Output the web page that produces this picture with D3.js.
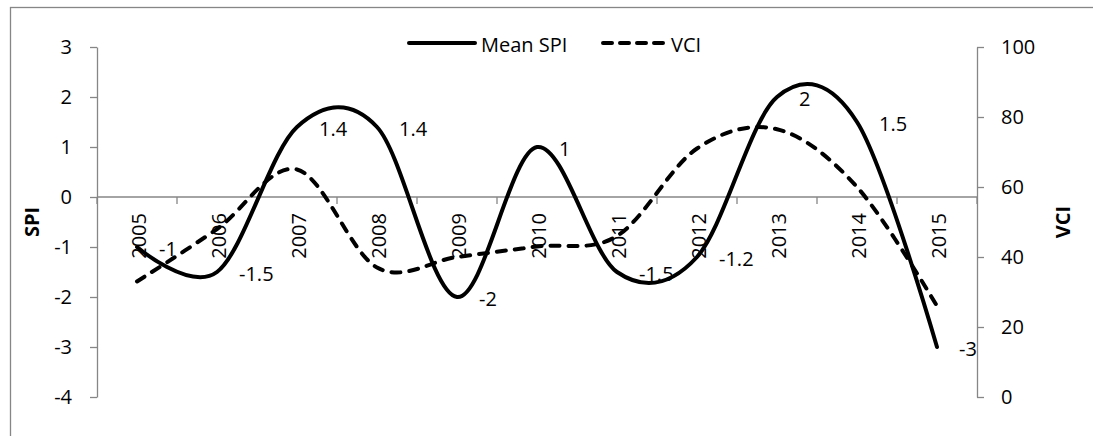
<!DOCTYPE html>
<html>
<head>
<meta charset="utf-8">
<script src="https://cdn.jsdelivr.net/npm/d3@7"></script>
<style>
  html, body { margin: 0; padding: 0; background: #fff; }
  svg { display: block; }
  text { font-family: "Open Sans", "Noto Sans", sans-serif; fill: #000; }
</style>
</head>
<body>
<svg id="chart" width="1093" height="436"></svg>
<script>
// Years on the category axis
const years = ["2005", "2006", "2007", "2008", "2009", "2010", "2011", "2012", "2013", "2014", "2015"];
// Mean SPI per year (left axis)
const meanSPI = [-1, -1.5, 1.4, 1.4, -2, 1, -1.5, -1.2, 2, 1.5, -3];
// VCI per year (right axis)
const vci = [33, 48, 65, 37, 40, 43, 46, 71, 76.5, 60, 26];
// Axis ticks
const spiTicks = [3, 2, 1, 0, -1, -2, -3, -4];
const vciTicks = [100, 80, 60, 40, 20, 0];

const svg = d3.select("#chart");
const W = 1093, H = 436;
const plot = { left: 97, right: 977, top: 47, bottom: 397 };
const axisGray = "#868686";

// Outer chart frame
svg.append("rect")
  .attr("x", 10.5).attr("y", 7.5)
  .attr("width", W + 20).attr("height", H + 20)
  .attr("fill", "#fff").attr("stroke", axisGray).attr("stroke-width", 1.3);

const x = d3.scaleBand().domain(years).range([plot.left, plot.right]).padding(0);
const cx = d => x(d) + x.bandwidth() / 2;
const ySPI = d3.scaleLinear().domain([-4, 3]).range([plot.bottom, plot.top]);
const yVCI = d3.scaleLinear().domain([0, 100]).range([plot.bottom, plot.top]);

// Left (SPI) axis
const leftAxis = svg.append("g")
  .attr("transform", `translate(${plot.left},0)`)
  .call(d3.axisLeft(ySPI).tickValues(spiTicks).tickSize(7).tickPadding(18).tickSizeOuter(0)
    .tickFormat(d => d3.format("d")(d).replace("−", "-")));
// Right (VCI) axis
const rightAxis = svg.append("g")
  .attr("transform", `translate(${plot.right},0)`)
  .call(d3.axisRight(yVCI).tickValues(vciTicks).tickSize(7).tickPadding(17).tickSizeOuter(0));

[leftAxis, rightAxis].forEach(g => {
  g.select(".domain").attr("stroke", axisGray).attr("stroke-width", 1.3);
  g.selectAll(".tick line").attr("stroke", axisGray).attr("stroke-width", 1.3);
  g.selectAll(".tick text").attr("font-size", 20).attr("font-family", "Open Sans").attr("fill", "#000");
});

// Category axis crossing at SPI = 0
const y0 = ySPI(0);
svg.append("line")
  .attr("x1", plot.left).attr("x2", plot.right)
  .attr("y1", y0).attr("y2", y0)
  .attr("stroke", axisGray).attr("stroke-width", 1.3);
const tickEdges = years.map(d => x(d)).concat([plot.right]);
svg.append("g").selectAll("line").data(tickEdges).join("line")
  .attr("x1", d => d).attr("x2", d => d)
  .attr("y1", y0).attr("y2", y0 + 7)
  .attr("stroke", axisGray).attr("stroke-width", 1.3);

// Rotated year labels
svg.append("g").selectAll("text").data(years).join("text")
  .attr("transform", d => `translate(${cx(d) + 1},${y0 + 16}) rotate(-90)`)
  .attr("text-anchor", "end")
  .attr("dominant-baseline", "central")
  .attr("font-size", 20)
  .text(d => d);

// Axis titles
svg.append("text")
  .attr("transform", `translate(31,${(plot.top + plot.bottom) / 2}) rotate(-90)`)
  .attr("text-anchor", "middle").attr("dominant-baseline", "central")
  .attr("font-size", 20).attr("font-weight", "bold")
  .text("SPI");
svg.append("text")
  .attr("transform", `translate(1062,${(plot.top + plot.bottom) / 2}) rotate(-90)`)
  .attr("text-anchor", "middle").attr("dominant-baseline", "central")
  .attr("font-size", 20).attr("font-weight", "bold")
  .text("VCI");

// Smoothed lines
const spiLine = d3.line()
  .x((d, i) => cx(years[i]))
  .y(d => ySPI(d))
  .curve(d3.curveCatmullRom.alpha(0));
const vciLine = d3.line()
  .x((d, i) => cx(years[i]))
  .y(d => yVCI(d))
  .curve(d3.curveCatmullRom.alpha(0));

svg.append("path")
  .datum(vci)
  .attr("d", vciLine)
  .attr("fill", "none").attr("stroke", "#000")
  .attr("stroke-width", 4).attr("stroke-dasharray", "9,9")
  .attr("stroke-linecap", "round");

svg.append("path")
  .datum(meanSPI)
  .attr("d", spiLine)
  .attr("fill", "none").attr("stroke", "#000")
  .attr("stroke-width", 4).attr("stroke-linecap", "round").attr("stroke-linejoin", "round");

// SPI value labels, placed right of each point
svg.append("g").selectAll("text").data(meanSPI).join("text")
  .attr("x", (d, i) => cx(years[i]) + 22)
  .attr("y", d => ySPI(d) + 1)
  .attr("dominant-baseline", "central")
  .attr("font-size", 20)
  .text(d => String(d));

// Legend
const legend = svg.append("g");
const legY = 43;
legend.append("line")
  .attr("x1", 409).attr("x2", 475).attr("y1", legY).attr("y2", legY)
  .attr("stroke", "#000").attr("stroke-width", 4).attr("stroke-linecap", "round");
legend.append("text")
  .attr("x", 481).attr("y", legY + 1).attr("dominant-baseline", "central")
  .attr("font-size", 20).text("Mean SPI");
legend.append("line")
  .attr("x1", 603).attr("x2", 668).attr("y1", legY).attr("y2", legY)
  .attr("stroke", "#000").attr("stroke-width", 4)
  .attr("stroke-dasharray", "9,8").attr("stroke-linecap", "round");
legend.append("text")
  .attr("x", 671).attr("y", legY + 1).attr("dominant-baseline", "central")
  .attr("font-size", 20).text("VCI");
</script>
</body>
</html>
